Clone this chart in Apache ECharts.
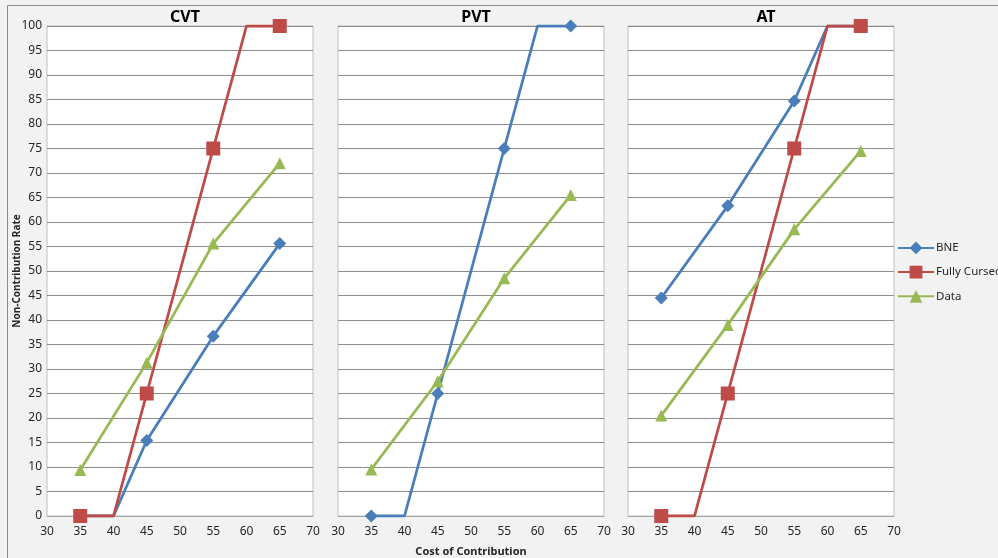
<!DOCTYPE html>
<html>
<head>
<meta charset="utf-8">
<script src="https://cdn.jsdelivr.net/npm/echarts@6/dist/echarts.min.js"></script>
<style>
  html, body { margin: 0; padding: 0; background: #f2f2f2; }
  #chart { width: 998px; height: 558px; }
</style>
</head>
<body>
<div id="chart"></div>
<script>
// Cost levels along the x axis; 40 and 60 are kink points drawn without markers
const costs = [35, 40, 45, 55, 60, 65];
const markerCosts = [35, 45, 55, 65];

const panelTitles = ['CVT', 'PVT', 'AT'];
const seriesNames = ['BNE', 'Fully Cursed', 'Data'];

// CVT treatment
const cvtBNE = [0, 0, 15.4, 36.7, null, 55.6];
const cvtCursed = [0, 0, 25, 75, 100, 100];
const cvtData = [9.4, null, 31.3, 55.6, null, 72];

// PVT treatment
const pvtBNE = [0, 0, 25, 75, 100, 100];
const pvtData = [9.5, null, 27.5, 48.5, null, 65.5];

// AT treatment
const atBNE = [44.5, null, 63.3, 84.7, 100, 100];
const atCursed = [0, 0, 25, 75, 100, 100];
const atData = [20.5, null, 39, 58.5, null, 74.5];

const xTicks = { min: 30, max: 70, interval: 5 };
const yTicks = { min: 0, max: 100, interval: 5 };

const colors = { 'BNE': '#4a7ebb', 'Fully Cursed': '#be4b48', 'Data': '#98b954' };
const symbols = { 'BNE': 'diamond', 'Fully Cursed': 'rect', 'Data': 'triangle' };
const symbolSizes = { 'BNE': 13, 'Fully Cursed': 14, 'Data': 12 };

const panels = [
  { title: panelTitles[0], series: [['BNE', cvtBNE], ['Fully Cursed', cvtCursed], ['Data', cvtData]] },
  { title: panelTitles[1], series: [['BNE', pvtBNE], ['Data', pvtData]] },
  { title: panelTitles[2], series: [['BNE', atBNE], ['Fully Cursed', atCursed], ['Data', atData]] }
];

const plotLefts = [47, 338, 628];
const plotWidth = 266;
const plotTop = 26;
const plotBottom = 558 - 516;

const font = '"Noto Sans", "Open Sans", sans-serif';

function toPoints(values) {
  const pts = [];
  costs.forEach((c, i) => {
    if (values[i] === null) return;
    const item = { value: [c, values[i]] };
    if (markerCosts.indexOf(c) < 0) item.symbol = 'none';
    pts.push(item);
  });
  return pts;
}

const grids = [], xAxes = [], yAxes = [], series = [], titles = [];
panels.forEach((p, k) => {
  grids.push({
    left: plotLefts[k], width: plotWidth, top: plotTop, bottom: plotBottom,
    containLabel: false, outerBoundsMode: 'none',
    show: true, backgroundColor: '#ffffff', borderColor: '#bfbfbf', borderWidth: 1
  });
  xAxes.push({
    type: 'value', gridIndex: k, min: xTicks.min, max: xTicks.max, interval: xTicks.interval,
    axisLine: { show: true, lineStyle: { color: '#a6a6a6', width: 1 } },
    axisTick: { show: false },
    splitLine: { show: false },
    axisLabel: { color: '#262626', fontSize: 12, fontFamily: font, margin: 10 },
    name: k === 1 ? 'Cost of Contribution' : '',
    nameLocation: 'middle', nameGap: 30,
    nameTextStyle: { fontWeight: 'bold', fontSize: 11, fontFamily: font, color: '#262626' }
  });
  yAxes.push({
    type: 'value', gridIndex: k, min: yTicks.min, max: yTicks.max, interval: yTicks.interval,
    axisLine: { show: false }, axisTick: { show: false },
    splitLine: { show: true, lineStyle: { color: '#8c8c8c', width: 1 } },
    axisLabel: { show: k === 0, color: '#262626', fontSize: 12, fontFamily: font, margin: 5 }
  });
  titles.push({
    text: p.title, left: plotLefts[k] + plotWidth / 2, top: 4, textAlign: 'center',
    textStyle: { fontWeight: 'bold', fontSize: 16, fontFamily: font, color: '#000000' }
  });
  p.series.forEach(([name, vals]) => {
    series.push({
      type: 'line', name: name, xAxisIndex: k, yAxisIndex: k,
      data: toPoints(vals), connectNulls: true,
      symbol: symbols[name], symbolSize: symbolSizes[name], showAllSymbol: true,
      lineStyle: { color: colors[name], width: 2.8 },
      itemStyle: { color: colors[name] },
      z: seriesNames.indexOf(name) + 2,
      animation: false
    });
  });
});

const chart = echarts.init(document.getElementById('chart'));
chart.setOption({
  backgroundColor: '#f2f2f2',
  animation: false,
  title: titles,
  grid: grids,
  xAxis: xAxes,
  yAxis: yAxes,
  legend: {
    data: seriesNames, orient: 'vertical', left: 897, top: 241.5, padding: 0,
    itemWidth: 36, itemHeight: 16, itemGap: 11.4,
    textStyle: { fontSize: 11.5, fontFamily: font, color: '#262626', padding: [0, 0, 0, -3] }
  },
  graphic: [{
    type: 'rect', shape: { x: 7.5, y: 5.5, width: 1000, height: 560 },
    style: { fill: 'none', stroke: '#8c8c8c', lineWidth: 1 }, silent: true, z: -1
  }, {
    // shared y-axis title, rotated alongside the first panel
    type: 'text', x: 17, y: 271, rotation: Math.PI / 2,
    style: {
      text: 'Non-Contribution Rate', align: 'center', verticalAlign: 'middle',
      font: 'bold 10px ' + font, fill: '#262626'
    }
  }],
  series: series
});
</script>
</body>
</html>
